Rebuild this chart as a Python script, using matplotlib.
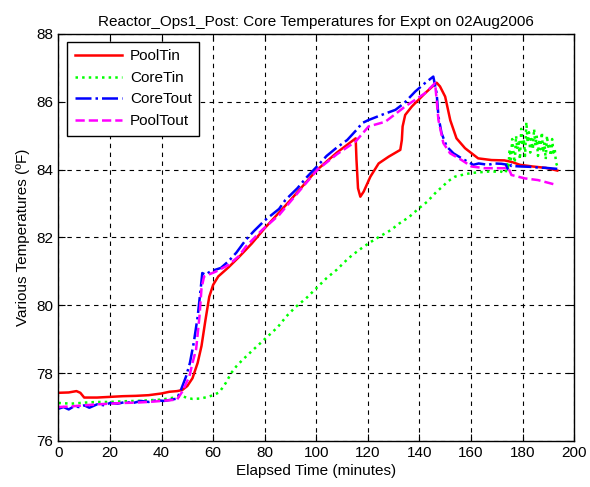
import matplotlib
matplotlib.use("Agg")
import matplotlib.pyplot as plt

plt.rcParams['font.family'] = ['Liberation Sans', 'DejaVu Sans']

# PoolTin (red)
t_pooltin = [0, 4, 7, 8.5, 10, 15, 20, 25, 30, 35, 40, 43, 46, 48, 50, 52, 54, 55.5, 57, 58.5,
             60, 62, 66, 70, 75, 80, 90, 100, 108, 115.3, 115.6, 116.2, 117.1, 118.4, 121, 124.2,
             128.1, 132.6, 133.2, 133.5, 134.5, 137.1, 142.2, 146.7, 148, 150, 152, 154.4, 157.7,
             162.8, 168, 173, 176, 179, 184, 189, 193.5]
pooltin = [77.42, 77.43, 77.47, 77.42, 77.28, 77.28, 77.30, 77.32, 77.33, 77.35, 77.40, 77.45,
           77.47, 77.50, 77.62, 77.85, 78.3, 78.8, 79.55, 80.25, 80.6, 80.85, 81.12, 81.42, 81.82,
           82.27, 83.1, 83.97, 84.5, 84.92, 84.3, 83.45, 83.2, 83.35, 83.79, 84.18, 84.38, 84.58,
           84.87, 85.27, 85.61, 85.86, 86.25, 86.56, 86.45, 86.15, 85.45, 84.92, 84.63, 84.33,
           84.28, 84.27, 84.22, 84.14, 84.09, 84.05, 83.97]

# CoreTin (green)
t_coretin = [0, 5, 10, 15, 20, 25, 30, 35, 40, 45, 48, 50, 52, 55, 58, 60, 62, 63, 65, 67, 69,
             71.4, 75, 80, 85, 88.5, 92, 96, 100, 104, 108, 112, 114, 117, 120.4, 124, 129, 132,
             136, 139.7, 143, 146.7, 149, 151, 153.8, 157, 160.2, 166.7, 171.8, 173,
             173.5, 174, 174.5, 175, 175.5, 176, 176.5, 177, 177.5, 178, 178.5, 179, 179.5, 180,
             180.5, 181, 181.5, 182, 182.5, 183, 183.5, 184, 184.5, 185, 185.5, 186, 186.5, 187,
             187.5, 188, 188.5, 189, 189.5, 190, 190.5, 191, 191.5, 192, 192.5, 193, 193.5]
coretin = [77.12, 77.1, 77.13, 77.15, 77.15, 77.17, 77.18, 77.2, 77.22, 77.28, 77.32, 77.27,
           77.24, 77.25, 77.3, 77.35, 77.42, 77.5, 77.72, 78.0, 78.2, 78.39, 78.65, 79.0, 79.35,
           79.68, 79.95, 80.2, 80.5, 80.8, 81.05, 81.35, 81.48, 81.65, 81.83, 82.0, 82.22, 82.4,
           82.6, 82.85, 83.05, 83.35, 83.5, 83.65, 83.79, 83.85, 83.9, 83.94, 83.94, 83.9,
           83.9, 84.2, 84.0, 84.6, 84.3, 84.9, 84.5, 84.2, 85.0, 84.6, 84.8, 84.3, 85.2, 84.7,
           84.9, 84.4, 85.4, 84.8, 85.1, 84.5, 84.9, 84.6, 85.2, 84.7, 85.0, 84.4, 84.9, 84.6,
           85.1, 84.5, 84.8, 84.3, 85.0, 84.6, 84.7, 84.4, 84.9, 84.5, 84.6, 84.2, 84.1]

# CoreTout (blue)
t_coretout = [0, 2, 4, 6, 8, 10, 12, 15, 18, 20, 23, 26, 29, 32, 35, 38, 41, 44, 46, 47.5, 49.5,
              51, 52.5, 54, 55.2, 55.8, 57, 59, 61, 63, 66, 69, 72.7, 76, 80, 85.6, 88, 92.7, 96,
              100.4, 104, 108, 112, 116, 117.8, 120.3, 125, 130.7, 134, 138.4, 142.2, 145.4,
              146.7, 147.4, 148.6, 150.6, 153.2, 156.4, 160.9, 163, 166.7, 169, 171.8, 173.5,
              174.4, 175.7, 177, 179.5, 183, 186, 189, 193.5]
coretout = [76.95, 77.0, 76.93, 77.02, 77.0, 77.05, 76.98, 77.08, 77.05, 77.12, 77.1, 77.15,
            77.12, 77.18, 77.15, 77.2, 77.18, 77.22, 77.25, 77.5, 77.9, 78.3, 78.9, 79.66, 80.5,
            80.95, 80.9, 81.0, 81.05, 81.1, 81.3, 81.55, 81.93, 82.2, 82.5, 82.84, 83.1, 83.45,
            83.75, 84.1, 84.4, 84.65, 84.87, 85.2, 85.37, 85.46, 85.6, 85.76, 85.95, 86.3, 86.55,
            86.74, 86.25, 85.56, 85.07, 84.68, 84.48, 84.33, 84.14, 84.18, 84.14, 84.18, 84.17,
            84.15, 83.99, 84.14, 84.1, 84.09, 84.08, 84.06, 84.05, 84.02]

# PoolTout (magenta)
t_pooltout = [0, 5, 10, 15, 20, 25, 30, 35, 40, 43, 46, 48, 50.8, 52, 53.4, 54.7, 55.5, 56.5,
              61, 66, 70, 72.7, 79, 85.6, 92.7, 100.4, 108, 115.2, 120.3, 126.8, 134.5, 142.2,
              146.1, 147.4, 149.3, 151.9, 156.4, 160.2, 165.4, 172.5, 174.5, 175.7, 180.9, 186,
              193]
pooltout = [77.0, 77.02, 77.05, 77.08, 77.1, 77.12, 77.13, 77.15, 77.18, 77.2, 77.22, 77.45,
            77.9, 78.3, 78.7, 79.66, 80.5, 80.85, 80.99, 81.19, 81.45, 81.73, 82.22, 82.66, 83.3,
            83.99, 84.45, 84.82, 85.27, 85.41, 85.86, 86.25, 86.55, 85.46, 84.78, 84.48, 84.28,
            84.09, 84.04, 84.04, 84.05, 83.84, 83.74, 83.69, 83.55]

fig = plt.figure(figsize=(5.9, 4.87), dpi=100)
ax = fig.add_axes([0.099, 0.0945, 0.874, 0.836])

ax.plot(t_pooltin, pooltin, color='#ff0000', lw=1.8, ls='-', label='PoolTin')
ax.plot(t_coretin, coretin, color='#00ff00', lw=1.8, ls=':', label='CoreTin')
ax.plot(t_coretout, coretout, color='#0000ff', lw=1.8, ls='-.', label='CoreTout')
ax.plot(t_pooltout, pooltout, color='#ff00ff', lw=1.8, ls='--', label='PoolTout')

ax.set_xlim(0, 200)
ax.set_ylim(76, 88)
ax.set_xticks(range(0, 201, 20))
ax.set_yticks(range(76, 89, 2))
ax.grid(True, color='black', ls=(0, (4, 4)), lw=0.8)
ax.tick_params(direction='in', top=True, right=True, length=5, labelsize=11)
for sp in ax.spines.values():
    sp.set_linewidth(1.0)

ax.set_title('Reactor_Ops1_Post: Core Temperatures for Expt on 02Aug2006', fontsize=11, pad=6)
ax.set_xlabel('Elapsed Time (minutes)', fontsize=11, labelpad=3)
ax.set_ylabel('Various Temperatures (ºF)', fontsize=11, labelpad=5)

leg = ax.legend(loc='upper left', bbox_to_anchor=(0.017, 0.981), borderaxespad=0,
                fancybox=False, edgecolor='black', framealpha=1, fontsize=11,
                handlelength=3.1, labelspacing=0.5, handletextpad=0.5, borderpad=0.5)
leg.get_frame().set_linewidth(1.0)

fig.savefig('out.png', dpi=100)
